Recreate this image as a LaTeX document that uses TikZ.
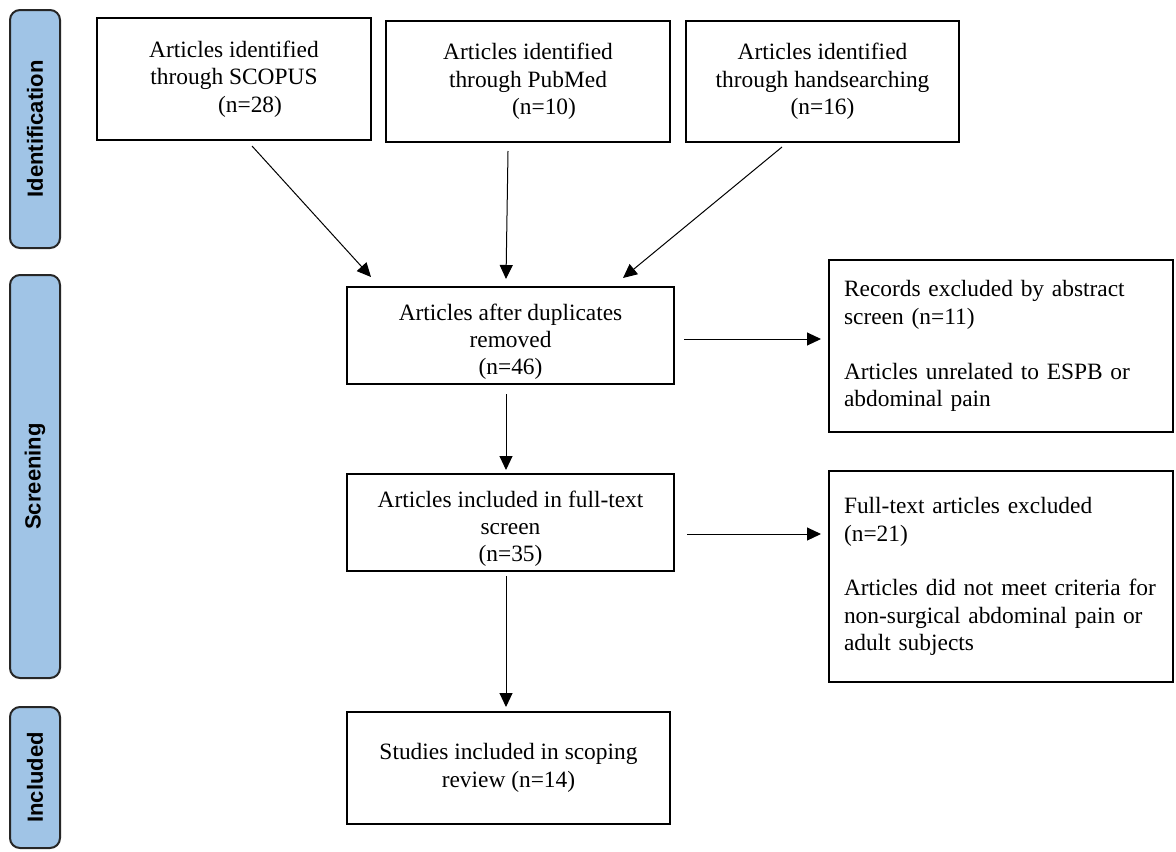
\documentclass[tikz,border=0pt]{standalone}
\usepackage{fontspec}
\setmainfont{Liberation Serif}
\newfontfamily\phasefont{Liberation Sans}
\usetikzlibrary{arrows.meta}
\usetikzlibrary{positioning}
\definecolor{phaseblue}{RGB}{160,196,230}
\newcommand{\lowfirst}{\rule{0pt}{14.5pt}}

\begin{document}
\begin{tikzpicture}[x=0.5pt,y=-0.5pt,
  every node/.style={font=\fontsize{11.7}{13.7}\selectfont},
  box/.style={draw,line width=1pt,inner sep=0pt,align=center},
  sidebox/.style={draw,line width=1pt,inner xsep=7.5pt,inner ysep=0pt,text width=157pt,align=left},
  phase/.style={draw=black!85,line width=1pt,fill=phaseblue,rounded corners=5pt,rotate=90,
    minimum height=25pt,inner sep=0pt,font=\phasefont\bfseries\fontsize{11}{13}\selectfont},
  arr/.style={-{Triangle[length=7pt,width=6.5pt]},line width=0.5pt}]
\useasboundingbox[fill=white] (0,0) rectangle (1176,851);

% phases
\node[phase,minimum width=119pt] (ident) at (35,129) {Identification};
\node[phase,minimum width=201.5pt] (screen) at (35,476.5) {Screening};
\node[phase,minimum width=70.5pt] (incl) at (35,777.5) {Included};

% sources
\node[box,minimum width=137pt,minimum height=61pt] (scopus) at (234,79) {Articles identified\\through SCOPUS\\\hspace*{16pt}(n=28)};
\node[box,minimum width=142pt,minimum height=60.5pt,right=6.5pt of scopus,yshift=-1.25pt] (pubmed) {Articles identified\\through PubMed\\\hspace*{16pt}(n=10)};
\node[box,minimum width=136.5pt,minimum height=60.5pt,right=7pt of pubmed] (hand) {Articles identified\\through handsearching\\(n=16)};

% main column
\node[box,minimum width=163.5pt,minimum height=48.5pt] (dup) at (510.5,335.5) {\lowfirst Articles after duplicates\\removed\\(n=46)};
\node[box,minimum width=163.5pt,minimum height=48.5pt,below=44pt of dup] (full) {\lowfirst Articles included in full-text\\screen\\(n=35)};
\node[box,minimum width=161.5pt,minimum height=56pt,below=69.5pt of full,xshift=-1pt] (stud) {Studies included in scoping\\review (n=14)};

% exclusions
\node[sidebox,minimum height=86pt,right=76.5pt of dup,yshift=-5.25pt] (rec) {Records excluded by abstract\\screen (n=11)\\[13.7pt]Articles unrelated to ESPB or\\abdominal pain};
\node[sidebox,minimum height=105.5pt,below=18.5pt of rec] (ftex) {Full-text articles excluded\\(n=21)\\[13.7pt]Articles did not meet criteria for\\non-surgical abdominal pain or\\adult subjects};

\coordinate (c1) at ([yshift=-1.75pt]dup.east);
\coordinate (c2) at ([yshift=-5.75pt]full.east);
\coordinate (c3) at ([xshift=-2.25pt]dup.south);
\coordinate (c4) at ([xshift=-2.25pt]full.south);

\draw[arr] ([xshift=9pt,yshift=-2.5pt]scopus.south) -- ([xshift=12.5pt,yshift=4.5pt]dup.north west);
\draw[arr] ([xshift=-10pt,yshift=-4pt]pubmed.south) -- ([xshift=-2.25pt,yshift=3.5pt]dup.north);
\draw[arr] ([xshift=-20.25pt,yshift=-2pt]hand.south) -- ([xshift=-26pt,yshift=4pt]dup.north east);
\draw[arr,shorten <=4.5pt,shorten >=3.5pt] (c1) -- (c1 -| rec.west);
\draw[arr,shorten <=6pt,shorten >=3.5pt] (c2) -- (c2 -| ftex.west);
\draw[arr,shorten <=4.5pt,shorten >=1.5pt] (c3) -- (c3 |- full.north);
\draw[arr,shorten <=2pt,shorten >=2pt] (c4) -- (c4 |- stud.north);
\end{tikzpicture}
\end{document}
